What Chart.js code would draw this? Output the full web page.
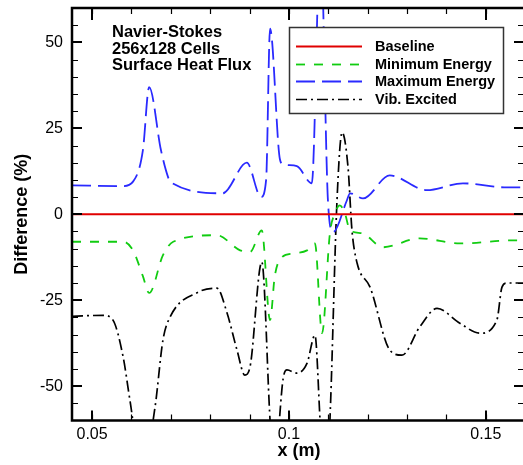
<!DOCTYPE html>
<html>
<head>
<meta charset="utf-8">
<script src="https://cdn.jsdelivr.net/npm/chart.js@4"></script>
<style>
  html, body { margin: 0; padding: 0; background: #fff; overflow: hidden; }
  #wrap { width: 526px; height: 465px; }
</style>
</head>
<body>
<div id="wrap"><canvas id="chart" width="526" height="465"></canvas></div>
<script>
// values
const xTicks = [0.05, 0.1, 0.15];
const yTicks = [-50, -25, 0, 25, 50];

const xBase = [0.0449, 0.1602];
const baseline = [0, 0];

const xMin = [0.0449, 0.0579, 0.0604, 0.0629, 0.0645, 0.0680, 0.0706, 0.0817, 0.0876, 0.0901, 0.0931, 0.0952, 0.0964, 0.0982, 0.1010, 0.1046, 0.1066, 0.1084, 0.1104, 0.1117, 0.1129, 0.1142, 0.1155, 0.1185, 0.1239, 0.1332, 0.1434, 0.1569, 0.1602];
const minEnergy = [-8, -8, -10.5, -18, -22.9, -11.9, -8, -6.1, -10.5, -11, -4.7, -30.8, -18, -12.5, -11.4, -10.5, -8.5, -34.6, -5.5, 0.3, 2.6, 0.3, -4.7, -5.5, -9.6, -7, -8.5, -7.6, -7.6];

const xMax = [0.0449, 0.0579, 0.0604, 0.0629, 0.0645, 0.0675, 0.0693, 0.0700, 0.0832, 0.0893, 0.0929, 0.0942, 0.0952, 0.0977, 0.0985, 0.1020, 0.1058, 0.1080, 0.1099, 0.1112, 0.1147, 0.1155, 0.1188, 0.1256, 0.1350, 0.1442, 0.1553, 0.1602];
const maxEnergy = [8.4, 8.2, 9.5, 18.6, 37, 18.6, 10.8, 9.3, 6.1, 15, 5, 10, 54, 16, 14.5, 14, 9, 80, 4, -5.2, 4, 6.1, 4.6, 11.3, 7, 9, 7.8, 7.8];

const xVib = [0.0449, 0.0528, 0.0553, 0.0579, 0.0596, 0.0627, 0.0660, 0.0680, 0.0698, 0.0769, 0.0817, 0.0843, 0.0868, 0.0888, 0.0901, 0.0931, 0.0952, 0.0964, 0.0977, 0.0985, 0.0995, 0.1020, 0.1046, 0.1066, 0.1079, 0.1091, 0.1104, 0.1122, 0.1135, 0.1150, 0.1160, 0.1173, 0.1206, 0.1256, 0.1287, 0.1332, 0.1376, 0.1434, 0.1485, 0.1528, 0.1541, 0.1553, 0.1602];
const vibExcited = [-29.7, -29.4, -30.8, -41.6, -54, -75, -56, -36.6, -29.9, -22.7, -21.5, -28.8, -39.5, -46.8, -44.5, -13.9, -60, -80, -58, -48, -45.3, -46.2, -43.3, -35.2, -60, -85, -60, 4, 23.8, 13.7, -4.6, -14.2, -21.2, -39.5, -41, -32.8, -27.4, -31.7, -34.6, -30.8, -21.2, -20, -20];

const noteLines = ['Navier-Stokes', '256x128 Cells', 'Surface Heat Flux'];

const FONT = '"Liberation Sans", Arial, Helvetica, sans-serif';

function pts(xs, ys) {
    return xs.map((x, i) => ({ x: x, y: ys[i] }));
}

// frame with inward ticks on all four sides
const framePlugin = {
    id: 'frame',
    afterDraw(chart) {
        const ctx = chart.ctx;
        const a = chart.chartArea;
        const xs = chart.scales.x, ys = chart.scales.y;
        ctx.save();
        ctx.strokeStyle = '#000';
        // minor ticks
        ctx.lineWidth = 1.2;
        ctx.beginPath();
        for (let v = 0.04; v <= 0.161; v += 0.01) {
            const p = Math.round(xs.getPixelForValue(v)) + 0.5;
            if (p < a.left || p > a.right) continue;
            ctx.moveTo(p, a.bottom); ctx.lineTo(p, a.bottom - 6);
            ctx.moveTo(p, a.top); ctx.lineTo(p, a.top + 6);
        }
        for (let v = -60; v <= 60; v += 5) {
            const p = Math.round(ys.getPixelForValue(v)) + 0.5;
            if (p < a.top || p > a.bottom) continue;
            ctx.moveTo(a.left, p); ctx.lineTo(a.left + 6, p);
            ctx.moveTo(a.right, p); ctx.lineTo(a.right - 8, p);
        }
        ctx.stroke();
        // major ticks
        ctx.lineWidth = 2;
        ctx.beginPath();
        xTicks.forEach(v => {
            const p = Math.round(xs.getPixelForValue(v));
            ctx.moveTo(p, a.bottom); ctx.lineTo(p, a.bottom - 10);
            ctx.moveTo(p, a.top); ctx.lineTo(p, a.top + 12);
        });
        yTicks.forEach(v => {
            const p = Math.round(ys.getPixelForValue(v));
            ctx.moveTo(a.left, p); ctx.lineTo(a.left + 10, p);
            ctx.moveTo(a.right, p); ctx.lineTo(a.right - 12, p);
        });
        ctx.stroke();
        ctx.lineWidth = 2.5;
        ctx.strokeRect(a.left, a.top, a.right - a.left, a.bottom - a.top);
        ctx.restore();
    }
};

// text block and boxed legend
const notePlugin = {
    id: 'note',
    afterDatasetsDraw(chart) {
        const ctx = chart.ctx;
        ctx.save();
        ctx.fillStyle = '#000';
        ctx.font = 'bold 16.5px ' + FONT;
        ctx.textBaseline = 'alphabetic';
        noteLines.forEach((t, i) => ctx.fillText(t, 112, 37 + i * 16.5));

        // legend
        ctx.fillStyle = '#fff';
        ctx.fillRect(289, 27, 214, 86);
        ctx.strokeStyle = '#333';
        ctx.lineWidth = 1.5;
        ctx.strokeRect(289.5, 27.5, 214, 86);
        ctx.font = 'bold 14.5px ' + FONT;
        ctx.textBaseline = 'middle';
        chart.data.datasets.forEach((ds, i) => {
            const y = Math.round(46 + i * 17.7) + 0.5;
            ctx.strokeStyle = ds.borderColor;
            ctx.lineWidth = ds.borderWidth;
            ctx.setLineDash(ds.borderDash || []);
            ctx.beginPath();
            ctx.moveTo(296, y); ctx.lineTo(362, y);
            ctx.stroke();
            ctx.setLineDash([]);
            ctx.fillStyle = '#000';
            ctx.fillText(ds.label, 375, y);
        });
        ctx.restore();
    }
};

new Chart(document.getElementById('chart'), {
    type: 'line',
    data: {
        datasets: [
            {
                label: 'Baseline',
                data: pts(xBase, baseline),
                borderColor: '#e00000',
                borderWidth: 2
            },
            {
                label: 'Minimum Energy',
                data: pts(xMin, minEnergy),
                borderColor: '#11cc11',
                borderWidth: 1.8,
                borderDash: [9, 9]
            },
            {
                label: 'Maximum Energy',
                data: pts(xMax, maxEnergy),
                borderColor: '#2a2aff',
                borderWidth: 1.8,
                borderDash: [19, 7]
            },
            {
                label: 'Vib. Excited',
                data: pts(xVib, vibExcited),
                borderColor: '#000',
                borderWidth: 1.7,
                borderDash: [11, 4, 2, 4]
            }
        ]
    },
    options: {
        responsive: false,
        animation: false,
        layout: { padding: { top: 8, left: 0, right: 0, bottom: 0 } },
        elements: {
            point: { radius: 0 },
            line: { cubicInterpolationMode: 'monotone', fill: false }
        },
        scales: {
            x: {
                type: 'linear',
                min: 0.0449,
                max: 0.1602,
                grid: { display: false, drawTicks: false },
                border: { display: false },
                afterBuildTicks: s => { s.ticks = xTicks.map(v => ({ value: v })); },
                afterFit: s => { s.height = 44.5; s.paddingLeft = 0; s.paddingRight = 0; },
                ticks: {
                    color: '#000',
                    padding: 4,
                    maxRotation: 0,
                    font: { family: FONT, size: 16 },
                    callback: v => String(v)
                },
                title: {
                    display: true,
                    text: 'x (m)',
                    color: '#000',
                    padding: { top: 0, bottom: 3 },
                    font: { family: FONT, size: 18, weight: 'bold' }
                }
            },
            y: {
                min: -60,
                max: 60,
                grid: { display: false, drawTicks: false },
                border: { display: false },
                afterBuildTicks: s => { s.ticks = yTicks.map(v => ({ value: v })); },
                afterFit: s => { s.width = 72; s.paddingTop = 0; s.paddingBottom = 0; },
                ticks: {
                    color: '#000',
                    padding: 9,
                    font: { family: FONT, size: 16 },
                    callback: v => String(v)
                },
                title: {
                    display: true,
                    text: 'Difference (%)',
                    color: '#000',
                    padding: { top: 11, bottom: 0 },
                    font: { family: FONT, size: 18, weight: 'bold' }
                }
            }
        },
        plugins: {
            legend: { display: false },
            tooltip: { enabled: false }
        }
    },
    plugins: [notePlugin, framePlugin]
});
</script>
</body>
</html>
